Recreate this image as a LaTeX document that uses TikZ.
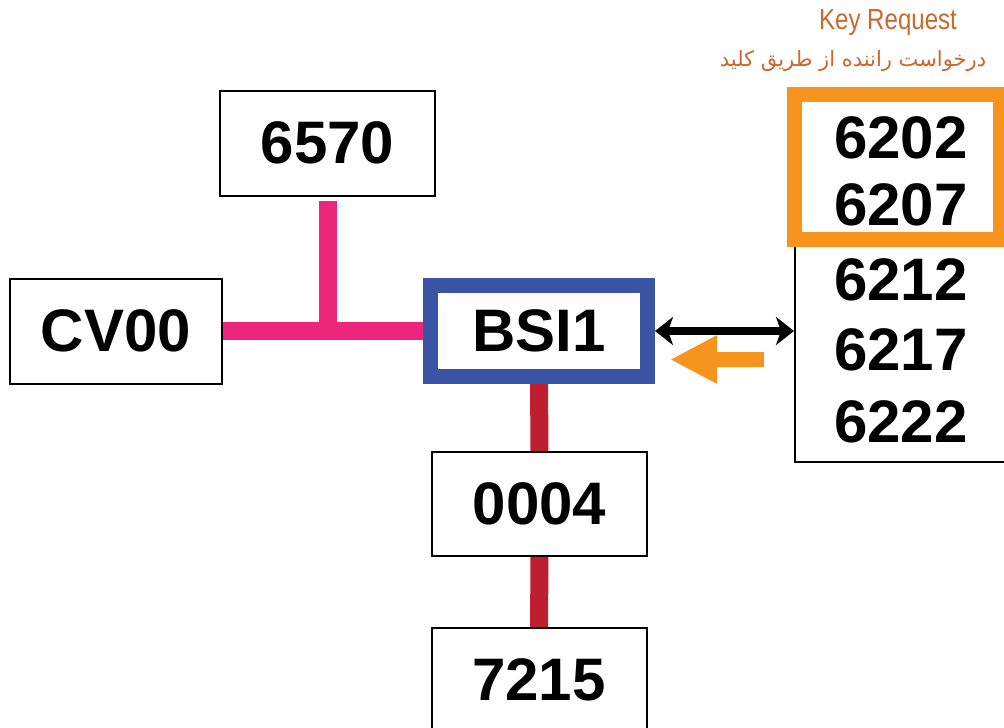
\documentclass[tikz,border=0pt]{standalone}
\usepackage{fontspec}
\setmainfont{Liberation Sans}
\newfontfamily\arabicfont[Script=Arabic]{DejaVu Sans}
\newfontfamily\narrowfont[FakeStretch=0.83]{Liberation Sans}
\TeXXeTstate=1
\usetikzlibrary{arrows.meta}

\definecolor{keytext}{RGB}{200,105,45}
\definecolor{keyorange}{RGB}{247,148,29}
\definecolor{canpink}{RGB}{236,38,122}
\definecolor{canred}{RGB}{190,30,45}
\definecolor{bsiblue}{RGB}{58,83,164}

\tikzset{
  ecu/.style={draw, line width=2pt, fill=white, minimum width=215pt, minimum height=105pt,
    inner sep=0pt, font=\fontsize{60}{60}\selectfont\bfseries},
  code/.style={inner sep=0pt, font=\fontsize{60}{60}\selectfont\bfseries},
  pinkbus/.style={canpink, line width=18pt},
  redbus/.style={canred, line width=18pt}
}

\begin{document}
\begin{tikzpicture}[x=1pt, y=-1pt]
            \clip (0,0) rectangle (1004,728);
            \fill[white] (0,0) rectangle (1004,728);

            % ECUs
            \node[ecu] (e6570) at (327.5,143) {6570};
            \node[ecu, minimum width=212pt] (cv00) at (116,331) {CV00};
            \node[ecu, draw=bsiblue, line width=15pt, minimum width=217pt, minimum height=91pt] (bsi) at (539,331) {BSI1};
            \node[ecu, minimum height=104pt] (e0004) at (539.5,504) {0004};
            \node[ecu, minimum height=104pt] (e7215) at (539,680) {7215};

            % right column with the fault codes
            \node[draw, line width=2pt, minimum width=225pt, minimum height=367pt] (rcol) at (907.5,278.5) {};
            \node[draw=keyorange, line width=15pt, fill=white, minimum width=206pt, minimum height=145pt] (keyreq) at (897.5,167) {};
            \node[code] (c6202) at (901,138) {6202};
            \node[code] (c6207) at (901,205) {6207};
            \node[code] (c6212) at (901,280) {6212};
            \node[code] (c6217) at (901,350) {6217};
            \node[code] (c6222) at (901,422) {6222};

            % titles
            \node[keytext, font=\narrowfont\fontsize{29}{29}\selectfont] (title) at (888,23) {Key Request};
            \node[keytext, font=\fontsize{21}{22}\selectfont] (titlefa) at (853,61) {\arabicfont\beginR درخواست راننده از طریق کلید\endR};

            % buses
            \draw[pinkbus] (cv00) -- (bsi);
            \draw[pinkbus] ([yshift=-4pt]e6570.south) -- (e6570.south |- cv00.east);
            \draw[redbus] (bsi) -- (e0004);
            \draw[redbus] (e0004) -- (e7215);

            % diagnostic link
            \draw[{Stealth[length=18pt,width=28pt,inset=5pt]}-{Stealth[length=18pt,width=28pt,inset=5pt]}, line width=8pt] (bsi.east) -- (bsi.east -| rcol.west);
            \coordinate (reqstart) at (764,359.5);
            \coordinate (reqend) at (670,359.5);
            \draw[-{Triangle[length=47pt,width=45pt]}, keyorange, line width=15pt] (reqstart) -- (reqend);
        \end{tikzpicture}
\end{document}
